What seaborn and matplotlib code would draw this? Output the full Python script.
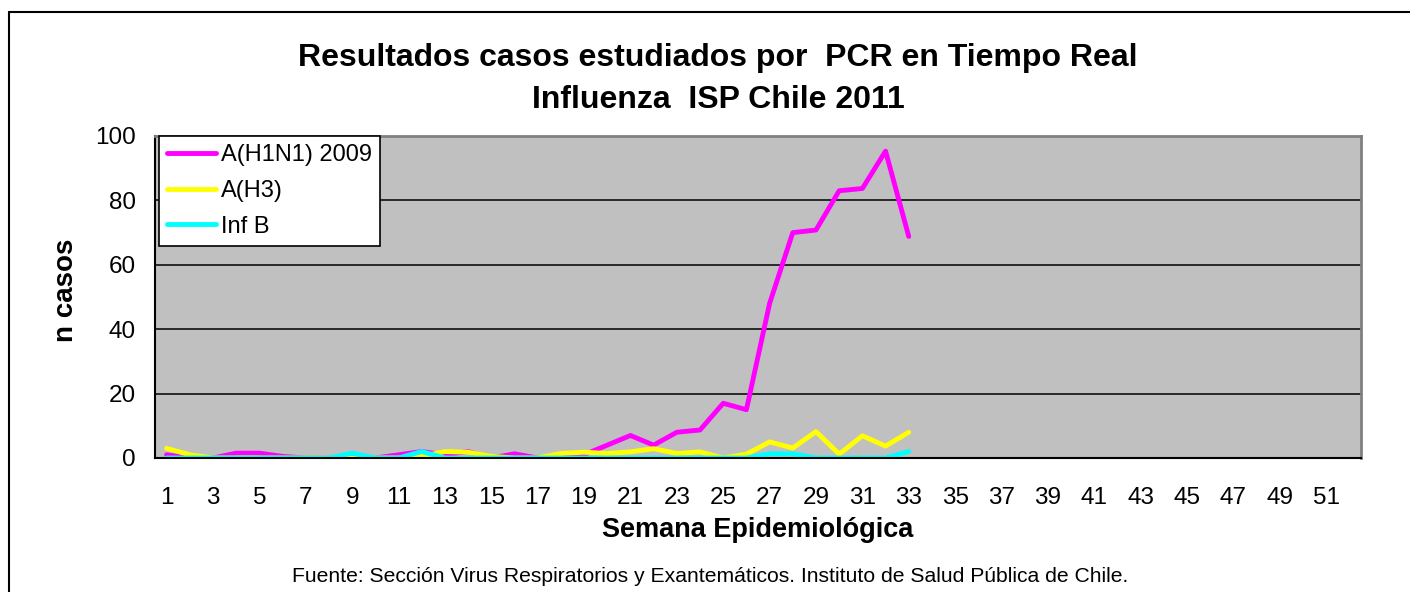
import pandas as pd
import matplotlib.pyplot as plt
import matplotlib.lines as mlines
import seaborn as sns
import numpy as np

# Casos por semana epidemiologica (semanas 1 a 33)
semanas = list(range(1, 34))
h1n1 = [1, 0, 0, 1.5, 1.5, 0.5, 0, 0, 0.5, 0, 1, 2, 1, 2, 0, 1.3, 0, 0.5, 1,
        4, 7, 4, 8, 8.7, 17, 15, 48, 70, 70.8, 83, 83.7, 95.3, 68.8]
h3 = [3, 1, 0, 0, 0, 0, 0, 0, 0, 0, 0, 0.5, 2, 1.8, 0.5, 0, 0, 1.4, 1.8,
      1.4, 1.9, 2.9, 1.4, 1.9, 0, 1.2, 5, 3.1, 8.2, 1.2, 6.9, 3.7, 8]
inf_b = [0, 0, 0, 0, 0, 0, 0, 0, 1.5, 0, 0, 2, 0, 0, 0, 0, 0, 0, 0,
         0, 0, 0, 0, 0, 0, 0, 1.3, 1.3, 0, 0, 0, 0, 2]
series = ['A(H1N1) 2009', 'A(H3)', 'Inf B']
colores = ['#FF00FF', '#FFFF00', '#00FFFF']
tick_semanas = list(range(1, 52, 2))

df = pd.DataFrame({
    'semana': semanas * 3,
    'casos': h1n1 + h3 + inf_b,
    'tipo': [series[0]] * len(semanas) + [series[1]] * len(semanas) + [series[2]] * len(semanas),
})

sns.set_style('white')
plt.rcParams['font.family'] = ['Liberation Sans', 'DejaVu Sans']
plt.rcParams['text.color'] = 'black'
plt.rcParams['axes.labelcolor'] = 'black'
plt.rcParams['xtick.color'] = 'black'
plt.rcParams['ytick.color'] = 'black'

fig = plt.figure(figsize=(14.1, 5.92), dpi=100)
ax = fig.add_axes([155 / 1410, 1 - 458 / 592, 1206 / 1410, 322 / 592])
ax.set_facecolor('#C0C0C0')

sns.lineplot(data=df, x='semana', y='casos', hue='tipo', hue_order=series,
             palette=colores, linewidth=3.5, errorbar=None, legend=False, ax=ax)
for ln in ax.lines:
    ln.set_solid_capstyle('round')
    ln.set_solid_joinstyle('round')

ax.set_xlim(0.5, 52.5)
ax.set_ylim(0, 100)
ax.set_yticks(range(0, 101, 20))
ax.yaxis.grid(True, color='black', linewidth=1.1)
ax.set_axisbelow(True)

ax.set_xticks(tick_semanas)
ax.set_xticklabels([str(s) for s in tick_semanas])
ax.set_xticks(np.arange(0.5, 53, 1), minor=True)
ax.tick_params(axis='x', which='major', length=0, pad=21, labelsize=17.5, labelcolor='black')
ax.tick_params(axis='x', which='minor', length=8, width=1.5, color='#606060', direction='out')
ax.tick_params(axis='y', length=8, width=1.2, color='black', direction='out', pad=6,
               labelsize=17.5, labelcolor='black')

for side in ['left', 'bottom']:
    ax.spines[side].set_color('black')
    ax.spines[side].set_linewidth(1.5)
for side in ['top', 'right']:
    ax.spines[side].set_color('#808080')
    ax.spines[side].set_linewidth(2)

ax.set_xlabel('Semana Epidemiológica', fontsize=19.5, fontweight='bold', va='center', color='black')
ax.xaxis.set_label_coords(0.5, (458 - 530) / 322)
ax.set_ylabel('n casos', fontsize=20, fontweight='bold', va='center', color='black')
ax.yaxis.set_label_coords((66 - 155) / 1206, (458 - 290) / 322)

handles = [mlines.Line2D([], [], color=c, linewidth=3.5, solid_capstyle='round') for c in colores]
leg = ax.legend(handles, series, loc='upper left', bbox_to_anchor=(0.003, 1.0),
                borderaxespad=0, fontsize=17, frameon=True, fancybox=False,
                framealpha=1, edgecolor='black', handlelength=2.1,
                handletextpad=0.2, labelspacing=0.58, borderpad=0.35, labelcolor='black')
leg.get_frame().set_linewidth(1.2)

fig.text(718 / 1410, 1 - 79 / 592,
         'Resultados casos estudiados por  PCR en Tiempo Real\nInfluenza  ISP Chile 2011',
         fontsize=23, fontweight='bold', ha='center', va='center', linespacing=1.5, color='black')
fig.text(710 / 1410, 1 - 577 / 592,
         'Fuente: Sección Virus Respiratorios y Exantemáticos. Instituto de Salud Pública de Chile.',
         fontsize=15.2, ha='center', va='center', color='black')

# marco del grafico
fig.add_artist(mlines.Line2D([9 / 1410, 9 / 1410], [0, 1 - 12 / 592], color='black', linewidth=1.5,
                             transform=fig.transFigure))
fig.add_artist(mlines.Line2D([9 / 1410, 1], [1 - 12 / 592, 1 - 12 / 592], color='black', linewidth=1.5,
                             transform=fig.transFigure))

plt.savefig('out.png', dpi=100)
